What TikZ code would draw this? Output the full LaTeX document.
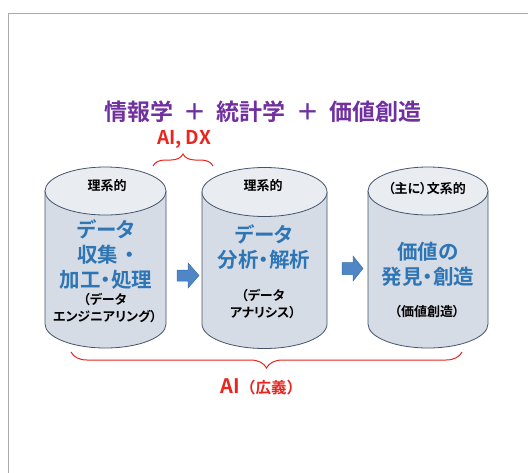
\documentclass[tikz,border=0pt]{standalone}
\usepackage{fontspec}
\setmainfont{Noto Sans CJK JP}[BoldFont={Noto Sans CJK JP Bold}]
\newfontfamily\paltfont{Noto Sans CJK JP Bold}[RawFeature=+palt]
\usetikzlibrary{decorations.pathreplacing}
\definecolor{framegray}{HTML}{AAAAAA}
\definecolor{cylside}{HTML}{D6DCE5}
\definecolor{cyltop}{HTML}{E9ECF1}
\definecolor{cylline}{HTML}{44546A}
\definecolor{titlepurple}{HTML}{7030A0}
\definecolor{bigblue}{HTML}{2E75B6}
\definecolor{arrowblue}{HTML}{4F86C6}
\definecolor{arrowline}{HTML}{3A6EA5}
\definecolor{bracered}{HTML}{E8261F}
\tikzset{
  cylbody/.style={fill=cylside,draw=cylline,line width=0.8pt},
  cyltopstyle/.style={fill=cyltop,draw=cylline,line width=0.8pt},
  smalllabel/.style={font=\paltfont\fontsize{13}{15}\selectfont,text=black,inner sep=0pt},
  biglabel/.style={font=\paltfont\fontsize{20.5}{25}\selectfont,text=bigblue,align=center,inner sep=0pt},
  notelabel/.style={font=\paltfont\fontsize{13}{17.5}\selectfont,text=black,align=center,inner sep=0pt},
  blockarrow/.style={fill=arrowblue,draw=arrowline,line width=0.5pt},
  redbrace/.style={draw=bracered,line width=1pt,decorate},
}
\newcommand{\mycyl}[5]{% cx, rx, topcy, botcy, ry
  \path[cylbody] (#1-#2,#3) -- (#1-#2,#4) arc[start angle=180,end angle=0,x radius=#2,y radius=#5] -- (#1+#2,#3) -- cycle;
  \path[cyltopstyle] (#1,#3) ellipse [x radius=#2, y radius=#5];
}
\begin{document}
\begin{tikzpicture}[x=1pt,y=-1pt]
\useasboundingbox (0,0) rectangle (528,472);
% frame
\draw[framegray,line width=1.4pt] (8.5,480) -- (8.5,13.5) -- (540,13.5);
% cylinders
\mycyl{105.5}{60.5}{191}{324}{24}
\mycyl{264.5}{62.5}{192}{324}{24.5}
\mycyl{428}{60}{191}{324}{24}
% title
\node[font=\fontsize{23}{26}\selectfont\bfseries,text=titlepurple,inner sep=0pt] (title) at (263,112)
  {情報学\hspace{0.45em}＋\hspace{0.45em}統計学\hspace{0.45em}＋\hspace{0.45em}価値創造};
\node[font=\fontsize{19}{22}\selectfont\bfseries,text=bracered,inner sep=0pt] (aidx) at (184,139) {AI, DX};
% small brace
\coordinate (sbL) at (153,166);
\coordinate (sbR) at (213,166);
\draw[redbrace,decoration={brace,amplitude=12pt,aspect=0.5}] (sbL) -- (sbR);
% big brace
\coordinate (bbL) at (71,352);
\coordinate (bbR) at (462,352);
\draw[redbrace,decoration={brace,amplitude=16pt,aspect=0.5}] (bbR) -- (bbL);
\node[text=bracered,inner sep=0pt,anchor=base east,font=\fontsize{20}{22}\selectfont\bfseries] (aiword) at (240,393) {AI};
\node[text=bracered,inner sep=0pt,anchor=base west,font=\fontsize{15.5}{18}\selectfont\bfseries] (aiparen) at (240,393) {（広義）};
% cylinder 1 texts
\node[smalllabel] (c1top) at (107,186) {理系的};
\node[biglabel] (c1big) at (106,255) {データ\\収集\hspace{0.3em}・\\加工・処理};
\node[notelabel] (c1note) at (105,308) {（データ\\エンジニアリング）};
% cylinder 2 texts
\node[smalllabel] (c2top) at (263,186) {理系的};
\node[biglabel] (c2big) at (264,247.5) {データ\\分析・解析};
\node[notelabel] (c2note) at (263,304) {（データ\\アナリシス）};
% cylinder 3 texts
\node[smalllabel] (c3top) at (427,189) {（主に）文系的};
\node[biglabel] (c3big) at (428,264) {価値の\\発見・創造};
\node[notelabel] (c3note) at (427,312) {（価値創造）};
% block arrows
\path[blockarrow] (177,270) -- (188,270) -- (188,263) -- (199,275.5) -- (188,288) -- (188,281) -- (177,281) -- cycle;
\path[blockarrow] (342,262.5) -- (353,262.5) -- (353,256) -- (363,268.5) -- (353,281) -- (353,274.5) -- (342,274.5) -- cycle;
\end{tikzpicture}
\end{document}
